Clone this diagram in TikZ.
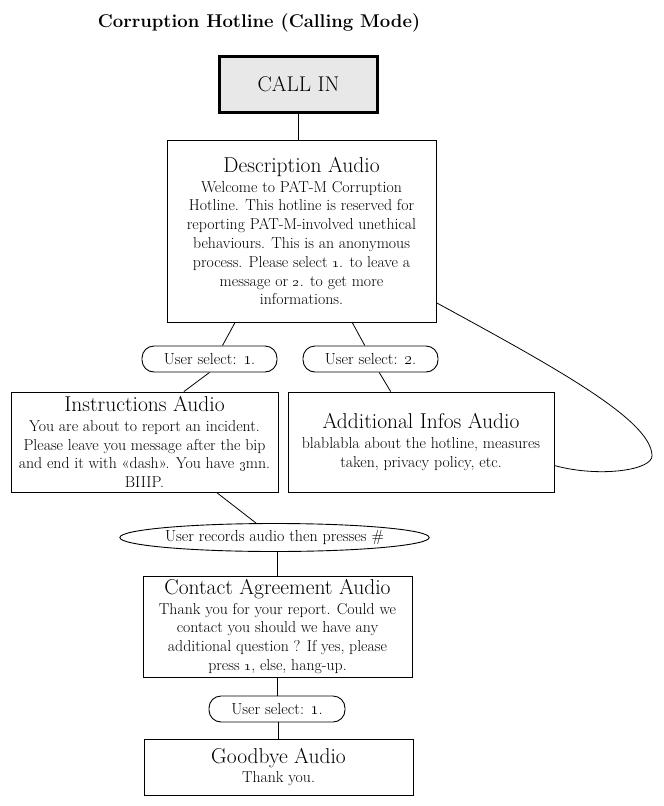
\documentclass[tikz,border=0pt]{standalone}
\usetikzlibrary{shapes.geometric}
\definecolor{callfill}{HTML}{E8E8E8}
\newcommand\hd[1]{{\fontsize{21.5}{24}\selectfont #1}\\[1pt]}
\newcommand\osn[1]{\oldstylenums{#1}}
\tikzset{
  box/.style={draw, line width=0.9pt, inner sep=0pt, align=center, font=\fontsize{15.8}{18.8}\selectfont},
  pill/.style={draw, line width=0.9pt, rounded corners=12pt, inner sep=0pt, align=center, minimum height=26pt, font=\fontsize{16}{18}\selectfont},
  oval/.style={draw, ellipse, line width=0.9pt, inner sep=0pt, font=\fontsize{16}{18}\selectfont},
  link/.style={line width=0.8pt},
}
\begin{document}
\begin{tikzpicture}[x=1pt,y=-1pt]
\useasboundingbox (0,0) rectangle (664,806);
\node[font=\bfseries\fontsize{18.5}{22}\selectfont] (title) at (259,23) {Corruption Hotline (Calling Mode)};
\node[draw, line width=2.3pt, fill=callfill, minimum width=158pt, minimum height=56pt, inner sep=0pt, font=\fontsize{21.3}{24}\selectfont] (call) at (298.5,84.5) {CALL IN};
\node[box, minimum width=269pt, minimum height=182pt] (desc) at (301.5,231) {\hd{Description Audio}Welcome to PAT-M Corruption\\Hotline. This hotline is reserved for\\reporting PAT-M-involved unethical\\behaviours. This is an anonymous\\process. Please select \osn{1}. to leave a\\message or \osn{2}. to get more\\informations.};
\node[pill, minimum width=135pt] (sel1) at (209.5,359) {User select: \osn{1}.};
\node[pill, minimum width=135pt] (sel2) at (370.5,359) {User select: \osn{2}.};
\node[box, minimum width=267pt, minimum height=100pt] (instr) at (144.5,442) {\hd{Instructions Audio}You are about to report an incident.\\Please leave you message after the bip\\and end it with «dash». You have \osn{3}mn.\\BIIIP.};
\node[box, minimum width=266pt, minimum height=100pt] (addl) at (421,442) {\hd{Additional Infos Audio}blablabla about the hotline, measures\\taken, privacy policy, etc.};
\node[oval, minimum width=305pt, minimum height=28pt] (rec) at (274.5,537.5) {User records audio then presses \#};
\node[box, minimum width=269pt, minimum height=101pt] (contact) at (277.5,626.5) {\hd{Contact Agreement Audio}Thank you for your report. Could we\\contact you should we have any\\additional question ? If yes, please\\press \osn{1}, else, hang-up.};
\node[pill, minimum width=136pt] (sel3) at (277,709) {User select: \osn{1}.};
\node[box, minimum width=269pt, minimum height=56pt] (bye) at (278.5,767) {\hd{Goodbye Audio}Thank you.};
\draw[link] (call.south) -- (call.south |- desc.north);
\draw[link] (desc.-126) -- (sel1.46);
\draw[link] (desc.-61) -- (sel2.113);
\draw[link] (sel1.south) -- (instr.52);
\draw[link] (sel2.-57) -- (addl.121);
\draw[link] (desc.-28) .. controls (560,370) and (650,420) .. (652,455) .. controls (654,470) and (600,478) .. (addl.-10.6);
\draw[link] (instr.-35) -- (rec.142);
\draw[link] (contact.north |- rec.south) -- (contact.north);
\draw[link] (contact.south) -- (contact.south |- sel3.north);
\draw[link] (sel3.south -| bye.north) -- (bye.north);
\end{tikzpicture}
\end{document}
